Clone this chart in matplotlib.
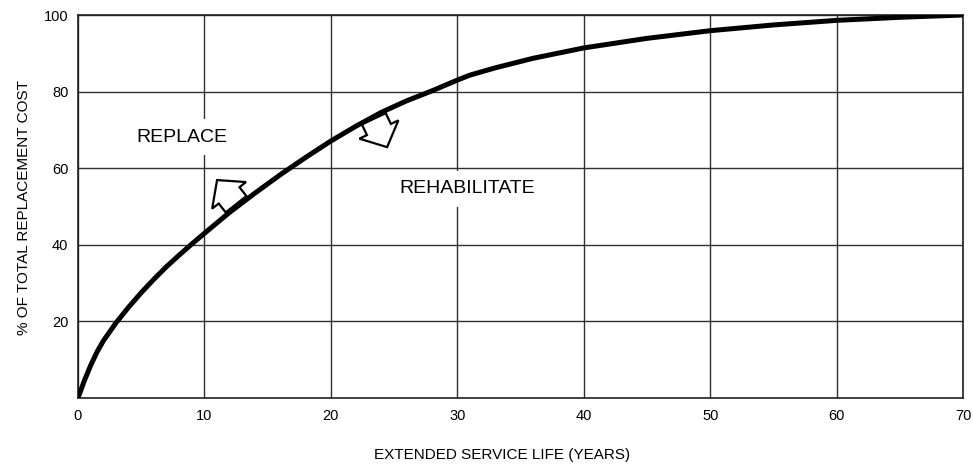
import matplotlib
matplotlib.use('Agg')
import matplotlib.pyplot as plt
from matplotlib.patches import FancyArrowPatch

plt.rcParams['font.family'] = ['Liberation Sans', 'DejaVu Sans']

# curve
life = [0, 0.5, 1, 1.5, 2, 3, 4, 5, 6, 7, 8, 9, 10, 12, 14, 16, 18, 20, 22, 24, 26, 28, 30, 31,
        33, 36, 40, 45, 50, 55, 60, 65, 70]
cost = [0, 4.5, 8.5, 12, 14.9, 19.6, 23.7, 27.5, 31, 34.3, 37.3, 40.2, 43, 48.5, 53.5, 58.3,
        62.8, 67.1, 71, 74.6, 77.6, 80.2, 83, 84.3, 86.2, 88.7, 91.4, 93.9, 95.9, 97.4, 98.6,
        99.4, 100]

xticks = [0, 10, 20, 30, 40, 50, 60, 70]
yticks = [20, 40, 60, 80, 100]

# arrow tail/tip positions (data)
arrow_replace = ((12.5, 50.6), (11.0, 56.9))
arrow_rehab = ((23.4, 72.9), (24.45, 65.5))

fig = plt.figure(figsize=(9.73, 4.65), dpi=100)
ax = fig.add_axes([78/973, 1-398/465, 885/973, 383/465])

ax.set_xlim(0, 70)
ax.set_ylim(0, 100)
ax.set_xticks(xticks)
ax.set_yticks(yticks)
ax.tick_params(length=0, labelsize=10.5, colors='black')
ax.tick_params(axis='x', pad=8)
ax.tick_params(axis='y', pad=7)
ax.grid(True, color='#303030', lw=1)
ax.set_axisbelow(True)
for s in ax.spines.values():
    s.set_color('#202020')
    s.set_linewidth(1.2)

ax.plot(life, cost, color='black', lw=3.6, solid_capstyle='round', zorder=5)

for (tail, tip) in [arrow_replace, arrow_rehab]:
    a = FancyArrowPatch(tail, tip, arrowstyle='simple,head_length=1.4,head_width=3.1,tail_width=1.9',
                        mutation_scale=10, shrinkA=0, shrinkB=0, fc='white', ec='black',
                        lw=1.6, joinstyle='miter', zorder=4)
    ax.add_patch(a)

box = dict(boxstyle='square,pad=0.5', fc='white', ec='none')
ax.text(8.2, 68.1, 'REPLACE', fontsize=14, ha='center', va='center', bbox=box, zorder=3)
ax.text(30.8, 54.6, 'REHABILITATE', fontsize=14, ha='center', va='center', bbox=box, zorder=3)

fig.text(502/973, 1-455/465, 'EXTENDED SERVICE LIFE (YEARS)', fontsize=11, ha='center', va='center')
fig.text(24/973, 1-207.5/465, '% OF TOTAL REPLACEMENT COST', fontsize=11, ha='center', va='center',
         rotation=90)

fig.savefig('out.png', dpi=100)
